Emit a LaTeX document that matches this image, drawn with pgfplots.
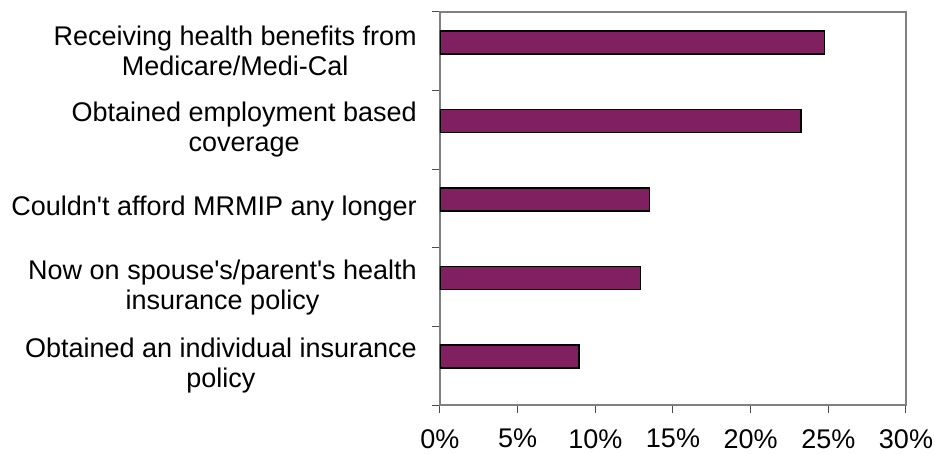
\documentclass[border=0pt]{standalone}
\usepackage{fontspec}
\setmainfont{Liberation Sans}
\usepackage{pgfplots}
\pgfplotsset{compat=1.18}
\definecolor{barc}{RGB}{128,32,96}
\begin{document}
\begin{tikzpicture}
\begin{axis}[
  scale only axis, width=466bp, height=393bp,
  xbar, bar width=23bp, bar shift=9bp,
  xmin=0, xmax=30, xtick={0,5,...,30},
  ymin=-0.5, ymax=4.5,
  ytick={0,...,4},
  yticklabels={{Obtained an individual insurance\\policy},
               {Now on spouse\textquotesingle s/parent\textquotesingle s health\\insurance policy},
               {Couldn\textquotesingle t afford MRMIP any longer},
               {Obtained employment based\\coverage},
               {Receiving health benefits from\\Medicare/Medi-Cal}},
  minor ytick={-0.5,0.5,...,4.5},
  xtick pos=left, ytick pos=left,
  tick align=outside,
  major tick length=8bp, minor tick length=8bp,
  every major y tick/.style={draw=none},
  every minor y tick/.style={draw=black!70, line width=1bp},
  every major x tick/.style={draw=black!70, line width=1bp},
  axis line style={draw=black!50, line width=1.5bp},
  /pgf/number format/assume math mode=true,
  xticklabel={\pgfmathprintnumber{\tick}\%},
  ticklabel style={font=\fontsize{27bp}{30bp}\selectfont},
  yticklabel style={align=center, inner sep=0pt, xshift=-15bp},
  xticklabel style={inner sep=0pt, yshift=-16bp},
]
\addplot[fill=barc, draw=black, line width=1.5bp] coordinates {
  (24.75,4) (23.25,3) (13.5,2) (12.9,1) (8.95,0)
};
\end{axis}
\pgfresetboundingbox
\path[use as bounding box] (current axis.south west) ++(-440bp,-49bp) rectangle ++(935bp,454bp);
\end{tikzpicture}
\end{document}
